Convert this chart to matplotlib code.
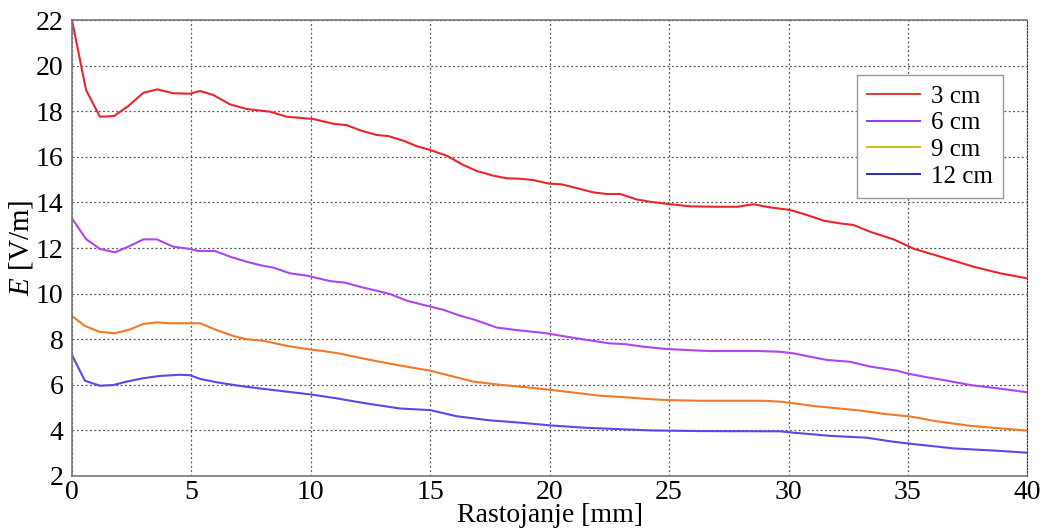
import numpy as np
import matplotlib
matplotlib.use('Agg')
import matplotlib.pyplot as plt
from matplotlib.lines import Line2D

plt.rcParams['font.family'] = ['Liberation Serif', 'DejaVu Serif']
plt.rcParams['mathtext.fontset'] = 'custom'
plt.rcParams['mathtext.it'] = 'Liberation Serif:italic'
plt.rcParams['mathtext.rm'] = 'Liberation Serif'

# podaci ocitani sa grafika
x3 = [0, 0.59, 1.17, 1.76, 2.36, 2.99, 3.57, 4.24, 4.94, 5.36, 5.92, 6.62, 7.31, 8.29, 8.99,
      10.11, 10.95, 11.5, 12.13, 12.76, 13.25, 13.87, 14.43, 15.0, 15.69, 16.39, 16.95, 17.65,
      18.2, 18.76, 19.32, 19.95, 20.51, 21.2, 21.83, 22.39, 22.95, 23.65, 24.21, 24.98, 25.88,
      27.0, 27.84, 28.54, 29.24, 30.07, 30.77, 31.47, 32.17, 32.72, 33.42, 34.4, 35.24, 36.36,
      37.75, 38.87, 40.0]
y3 = [22.0, 18.93, 17.76, 17.79, 18.23, 18.81, 18.96, 18.79, 18.77, 18.89, 18.71, 18.30, 18.10,
      17.98, 17.76, 17.66, 17.45, 17.39, 17.14, 16.96, 16.91, 16.71, 16.47, 16.30, 16.05, 15.64,
      15.38, 15.17, 15.06, 15.04, 14.98, 14.83, 14.79, 14.61, 14.44, 14.37, 14.37, 14.13, 14.03,
      13.93, 13.83, 13.81, 13.81, 13.92, 13.78, 13.67, 13.45, 13.20, 13.08, 13.01, 12.71, 12.38,
      11.97, 11.62, 11.18, 10.89, 10.67]

x6 = [0, 0.59, 1.17, 1.8, 2.36, 2.99, 3.55, 4.24, 4.94, 5.29, 5.99, 6.62, 7.31, 7.87, 8.43, 9.13,
      9.83, 10.8, 11.43, 12.13, 12.9, 13.32, 14.02, 15.0, 15.55, 16.25, 16.81, 17.79, 18.63,
      19.88, 20.65, 21.55, 22.5, 23.2, 23.93, 24.91, 25.88, 26.72, 28.8, 29.65, 30.21, 30.77,
      31.61, 32.58, 33.42, 34.54, 35.1, 35.8, 36.64, 37.61, 38.73, 40.0]
y6 = [13.30, 12.39, 11.96, 11.81, 12.06, 12.38, 12.38, 12.06, 11.96, 11.87, 11.87, 11.62, 11.40,
      11.25, 11.14, 10.89, 10.79, 10.55, 10.48, 10.28, 10.09, 9.98, 9.69, 9.43, 9.29, 9.03, 8.87,
      8.51, 8.40, 8.26, 8.12, 7.97, 7.82, 7.78, 7.67, 7.57, 7.52, 7.48, 7.48, 7.45, 7.38, 7.26,
      7.09, 7.01, 6.80, 6.62, 6.47, 6.33, 6.18, 5.99, 5.85, 5.67]

x9 = [0, 0.54, 1.17, 1.8, 2.43, 2.99, 3.55, 4.1, 5.36, 6.06, 6.76, 7.31, 8.01, 8.99, 9.83, 10.53,
      11.2, 12.34, 13.6, 15.0, 15.97, 16.81, 17.93, 19.04, 20.02, 21.0, 22.12, 23.09, 24.21,
      24.91, 26.3, 28.97, 29.65, 30.21, 31.05, 33.0, 34.12, 35.1, 36.08, 37.61, 38.87, 40.0]
y9 = [9.02, 8.58, 8.32, 8.26, 8.43, 8.67, 8.74, 8.70, 8.70, 8.40, 8.14, 8.00, 7.93, 7.71, 7.57,
      7.48, 7.37, 7.12, 6.87, 6.62, 6.36, 6.14, 6.00, 5.89, 5.78, 5.66, 5.52, 5.46, 5.37, 5.33,
      5.30, 5.30, 5.26, 5.19, 5.07, 4.87, 4.71, 4.61, 4.42, 4.20, 4.09, 3.99]

x12 = [0, 0.54, 1.17, 1.73, 2.29, 2.99, 3.69, 4.52, 4.94, 5.36, 6.06, 7.04, 7.87, 8.99, 9.97, 11.0,
       12.34, 13.74, 15.0, 16.11, 17.51, 18.76, 20.02, 21.42, 22.81, 24.21, 26.3, 29.65, 30.21,
       31.75, 33.28, 34.4, 35.24, 36.91, 38.87, 40.0]
y12 = [7.31, 6.18, 5.96, 5.99, 6.14, 6.29, 6.39, 6.44, 6.42, 6.26, 6.11, 5.95, 5.84, 5.70, 5.58,
       5.42, 5.18, 4.96, 4.89, 4.62, 4.44, 4.34, 4.22, 4.12, 4.06, 4.00, 3.97, 3.96, 3.90, 3.76,
       3.68, 3.50, 3.40, 3.21, 3.10, 3.02]

labels = ['3 cm', '6 cm', '9 cm', '12 cm']
line_colors = ['#E8262E', '#B044F0', '#F07A2A', '#5A48EC']
legend_colors = ['#E03A3A', '#A030F0', '#C8C020', '#2A2AB0']

fig = plt.figure(figsize=(10.43, 5.28), dpi=100)
ax = fig.add_axes([0.069, 0.0985, 0.916, 0.8635])

for xs, ys, c in zip([x3, x6, x9, x12], [y3, y6, y9, y12], line_colors):
    ax.plot(xs, ys, color=c, lw=1.5)

ax.set_xlim(0, 40)
ax.set_ylim(2, 22)
ax.set_xticks(np.arange(0, 41, 5))
ax.set_yticks(np.arange(2, 23, 2))
ax.grid(True, color='#555555', linestyle=(0, (1.5, 2)), linewidth=0.9)
ax.tick_params(length=0, labelsize=20)
ax.tick_params(axis='y', pad=6)
ax.tick_params(axis='x', pad=3)

for s in ['left', 'bottom', 'top']:
    ax.spines[s].set_color('#777777')
    ax.spines[s].set_linewidth(1.2)
ax.spines['right'].set_linestyle((0, (1.5, 1.5)))
ax.spines['right'].set_color('#333333')

ax.set_xlabel('Rastojanje [mm]', fontsize=20)
ax.xaxis.set_label_coords(0.5, -0.06)
ax.set_ylabel('$E$ [V/m]', fontsize=21, va='center')
ax.yaxis.set_label_coords(-0.053, 0.5)

handles = [Line2D([], [], color=c, lw=1.4) for c in legend_colors]
leg = ax.legend(handles, labels, loc='upper left', bbox_to_anchor=(0.822, 0.879),
                borderaxespad=0, fontsize=18, handlelength=2.1, labelspacing=0.17,
                fancybox=False, framealpha=1, edgecolor='#999999', borderpad=0.4,
                handletextpad=0.45)
leg.get_frame().set_linewidth(1.0)

fig.savefig('out.png', dpi=100)
